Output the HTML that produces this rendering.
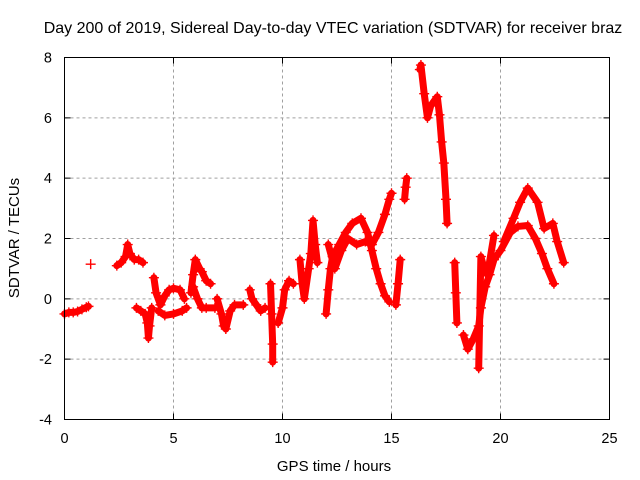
<!DOCTYPE html>
<html><head><meta charset="utf-8"><style>
html,body{margin:0;padding:0;background:#fff;}
svg{display:block;font-family:"Liberation Sans",sans-serif;}
</style></head><body>
<svg id="chart" width="640" height="480" viewBox="0 0 640 480">
<text x="333" y="33" font-size="16" text-anchor="middle">Day 200 of 2019, Sidereal Day-to-day VTEC variation (SDTVAR) for receiver braz</text>
<text x="334" y="471" font-size="15" text-anchor="middle">GPS time / hours</text>
<text transform="translate(19,238) rotate(-90)" font-size="15" text-anchor="middle">SDTVAR / TECUs</text>
<g id="grid"></g><g id="marks"></g><g id="axes"></g>
</svg>
<script>
const xTicks=[0,5,10,15,20,25];
const yTicks=[-4,-2,0,2,4,6,8];
const seg1=[[0,-0.5],[0.2,-0.45],[0.4,-0.45],[0.6,-0.42],[0.8,-0.35],[1.0,-0.28],[1.1,-0.25]];
const seg2=[[1.2,1.15]];
const seg3=[[2.4,1.1],[2.6,1.2],[2.8,1.4],[2.9,1.8],[3.0,1.5],[3.2,1.3],[3.4,1.3],[3.6,1.2]];
const seg4=[[3.3,-0.3],[3.5,-0.4],[3.7,-0.5],[3.8,-0.8],[3.85,-1.3],[3.9,-0.9],[4.0,-0.3]];
const seg5=[[4.1,0.7],[4.2,0.2],[4.4,-0.2],[4.6,0.1],[4.8,0.3],[5.0,0.35],[5.3,0.3],[5.5,0.0]];
const seg6=[[4.3,-0.4],[4.6,-0.55],[5.0,-0.5],[5.4,-0.4],[5.6,-0.3]];
const seg7=[[5.8,0.2],[5.9,0.8],[6.0,1.3],[6.2,1.0],[6.3,0.9],[6.5,0.6],[6.7,0.5]];
const seg8=[[5.9,0.4],[6.1,0.0],[6.3,-0.3],[6.5,-0.3],[6.9,-0.3]];
const seg9=[[7.0,0.0],[7.2,-0.5],[7.3,-0.9],[7.4,-1.0],[7.6,-0.4],[7.8,-0.2],[8.2,-0.2]];
const seg10=[[8.5,0.3],[8.6,0.0],[8.8,-0.2],[9.0,-0.4],[9.2,-0.3]];
const seg11=[[9.45,0.5],[9.5,-0.5],[9.55,-1.5],[9.55,-2.1]];
const seg12=[[9.8,-0.8],[10.0,-0.3],[10.1,0.3],[10.3,0.6],[10.5,0.5]];
const seg13=[[10.8,1.3],[10.9,0.5],[11.0,0.0],[11.2,1.0],[11.3,1.5],[11.4,2.6],[11.5,1.8],[11.6,1.2]];
const seg14=[[12.0,-0.5],[12.1,0.3],[12.2,1.0],[12.3,1.4],[12.6,1.8],[12.9,2.2],[13.2,2.5],[13.6,2.67],[13.9,2.2],[14.1,1.6],[14.3,1.0],[14.5,0.5],[14.7,0.1],[14.9,-0.1]];
const seg15=[[12.1,1.8],[12.4,1.0],[12.7,1.6],[13.0,2.0],[13.4,1.8],[13.8,1.9],[14.1,1.8],[14.4,2.2],[14.7,2.8],[14.9,3.3],[15.0,3.5]];
const seg16=[[15.2,-0.2],[15.3,0.5],[15.4,1.3]];
const seg17=[[15.6,3.3],[15.65,3.7],[15.7,4.0]];
const seg18=[[16.3,7.6],[16.35,7.75],[16.5,6.8],[16.65,6.0],[16.8,6.4],[17.1,6.7],[17.2,6.1],[17.3,5.2],[17.4,4.5],[17.5,3.3],[17.55,2.5]];
const seg19=[[17.9,1.2],[17.95,0.2],[18.0,-0.8]];
const seg20=[[18.3,-1.2],[18.5,-1.67],[18.75,-1.33],[19.0,-0.9],[19.1,-0.3],[19.3,0.4],[19.5,0.8],[19.7,1.3],[20.0,1.6],[20.45,2.2],[20.8,2.4],[21.25,2.43],[21.6,2.0],[21.9,1.5],[22.15,1.0],[22.45,0.5]];
const seg21=[[19.0,-2.3],[19.1,1.4],[19.25,1.0],[19.4,0.8],[19.7,2.1]];
const seg22=[[20.15,1.9],[20.6,2.67],[20.9,3.2],[21.25,3.67],[21.7,3.2],[22.0,2.33],[22.4,2.5],[22.6,1.9],[22.9,1.2]];
const segments=[seg1,seg2,seg3,seg4,seg5,seg6,seg7,seg8,seg9,seg10,seg11,seg12,seg13,seg14,seg15,seg16,seg17,seg18,seg19,seg20,seg21,seg22];

const X0=64.5,X1=609.5,Y0=419.5,Y1=57.5;
const xs=t=>X0+(t-0)/(25-0)*(X1-X0);
const ys=v=>Y0-(v+4)/12*(Y0-Y1);
const NS='http://www.w3.org/2000/svg';
function mk(tag,attrs,parent){const e=document.createElementNS(NS,tag);for(const k in attrs)e.setAttribute(k,attrs[k]);parent.appendChild(e);return e;}
const grid=document.getElementById('grid'),marks=document.getElementById('marks'),axes=document.getElementById('axes');
xTicks.forEach(t=>{
  if(t>0&&t<25){const g=mk('line',{x1:xs(t),x2:xs(t),y1:Y1,y2:Y0,stroke:'#a0a0a0','stroke-dasharray':'3,3'},grid);
  
  }
  const tk=mk('path',{d:`M${xs(t)},${Y0}v-6M${xs(t)},${Y1}v6`,stroke:'#000'},axes);
  
  
  const l=mk('text',{x:xs(t),y:443,'font-size':14.5,'text-anchor':'middle'},axes);l.textContent=t;
  
  
});
yTicks.forEach(v=>{
  if(v>-4&&v<8){const g=mk('line',{x1:X0,x2:X1,y1:ys(v),y2:ys(v),stroke:'#a0a0a0','stroke-dasharray':'3,3'},grid);
  
  }
  const tk=mk('path',{d:`M${X0},${ys(v)}h6M${X1},${ys(v)}h-6`,stroke:'#000'},axes);
  
  
  const l=mk('text',{x:52,y:ys(v)+5,'font-size':14.5,'text-anchor':'end'},axes);l.textContent=v;
  
  
});
const fr=mk('rect',{x:X0,y:Y1,width:X1-X0,height:Y0-Y1,fill:'none',stroke:'#000'},axes);


segments.forEach((s,i)=>{
  if(s.length>1){const pl=mk('polyline',{points:s.map(p=>xs(p[0])+','+ys(p[1])).join(' '),fill:'none',stroke:'#f00','stroke-width':7,'stroke-linejoin':'round','stroke-linecap':'round'},marks);
  
  }
  s.forEach(p=>{const m=mk('path',{d:`M${xs(p[0])-5},${ys(p[1])}h10M${xs(p[0])},${ys(p[1])-5}v10`,stroke:'#f00','stroke-width':1.4},marks);
  
  });
});
</script>
</body></html>
